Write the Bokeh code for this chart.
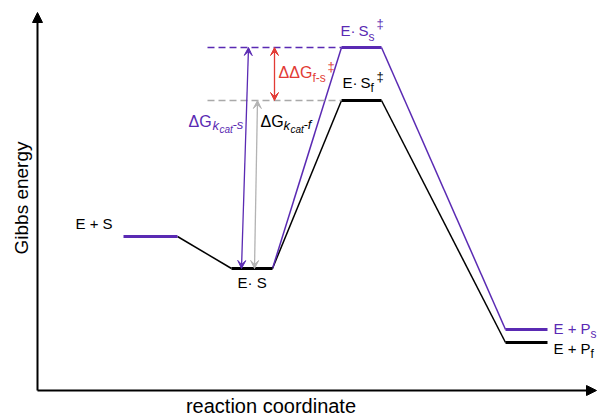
import math
from bokeh.plotting import figure
from bokeh.models import Range1d, Label, Arrow, VeeHead, NormalHead
from bokeh.embed import file_html
from bokeh.resources import INLINE

# ---- data: states along the reaction coordinate (arbitrary units) ----
states = ["E + S", "E· S", "E· S‡", "E + P"]
rc_start = [86, 194, 304, 468]
rc_end = [140, 235, 344, 510]
# Gibbs energies (arbitrary units, E + S = 0)
G_f = [0, -16, 68, -53]        # fast substrate f (black)
G_s = [0, -16, 94.5, -46.5]    # slow substrate s (purple)
axis_G = [-77, 112]            # extent of energy axis
axis_rc = [0, 559]             # extent of reaction-coordinate axis

PURPLE = "#5a2ab3"
BLACK = "#000000"
RED = "#e23b35"
GRAY = "#a9a9a9"
GRAY_ARROW = "#b3b3b3"
FONT = "Liberation Sans"

XPX, YPX = 1.0, 2.0   # pixels per data unit
BASE_SHIFT = 5        # pixels: raise labels to compensate baseline placement

p = figure(width=597, height=416, x_range=Range1d(-37, 560), y_range=Range1d(-90, 118),
           x_axis_type=None, y_axis_type=None, toolbar_location=None,
           output_backend="svg", min_border=0)
p.outline_line_color = None

# ---- axes as arrows ----
p.add_layout(Arrow(x_start=axis_rc[0], y_start=axis_G[0], x_end=axis_rc[0], y_end=axis_G[1],
                   line_width=2, line_color=BLACK,
                   end=NormalHead(size=10, fill_color=BLACK, line_color=BLACK, line_width=1)))
p.add_layout(Arrow(x_start=axis_rc[0], y_start=axis_G[0], x_end=axis_rc[1], y_end=axis_G[0],
                   line_width=2, line_color=BLACK,
                   end=NormalHead(size=10, fill_color=BLACK, line_color=BLACK, line_width=1)))

# ---- thin connectors ----
conn_x = [[rc_end[0], rc_start[1]], [rc_end[1], rc_start[2]], [rc_end[2], rc_start[3]],
          [rc_end[1], rc_start[2]], [rc_end[2], rc_start[3]]]
conn_y = [[G_f[0], G_f[1]], [G_f[1], G_f[2]], [G_f[2], G_f[3]],
          [G_s[1], G_s[2]], [G_s[2], G_s[3]]]
p.multi_line(xs=conn_x, ys=conn_y, line_color=[BLACK, BLACK, BLACK, PURPLE, PURPLE], line_width=1.5)

# ---- thick levels ----
lev_x0 = [rc_start[0], rc_start[1], rc_start[2], rc_start[2], rc_start[3], rc_start[3]]
lev_x1 = [rc_end[0], rc_end[1], rc_end[2], rc_end[2], rc_end[3], rc_end[3]]
lev_y = [G_s[0], G_f[1], G_f[2], G_s[2], G_f[3], G_s[3]]
lev_c = [PURPLE, BLACK, BLACK, PURPLE, BLACK, PURPLE]
p.segment(x0=lev_x0, y0=lev_y, x1=lev_x1, y1=lev_y, line_color=lev_c, line_width=3)

# ---- dashed reference lines at transition-state levels ----
DASH_FROM = 170
p.segment(x0=[DASH_FROM, DASH_FROM], y0=[G_s[2], G_f[2]], x1=[rc_start[2]] * 2, y1=[G_s[2], G_f[2]],
          line_color=[PURPLE, GRAY], line_width=1.3, line_dash="7 4")

# ---- double-headed energy arrows ----
def darrow(x0, y0, x1, y1, color):
    p.add_layout(Arrow(x_start=x0, y_start=y0, x_end=x1, y_end=y1, line_color=color, line_width=1.3,
                       start=VeeHead(size=8, fill_color=color, line_color=color, line_width=1),
                       end=VeeHead(size=8, fill_color=color, line_color=color, line_width=1)))

AX_S = (211, 204)
AX_F = (220, 217)
AX_R = 237
darrow(AX_S[0], G_s[2], AX_S[1], G_s[1], PURPLE)
darrow(AX_F[0], G_f[2], AX_F[1], G_f[1], GRAY_ARROW)
darrow(AX_R, G_s[2], AX_R, G_f[2], RED)

# ---- labels ----
def put(x, y, text, color=BLACK, size=15, dx=0, dy=0, style="normal",
        align="left", angle=0):
    if angle == 0:
        dy = dy - BASE_SHIFT
    p.add_layout(Label(x=x + dx / XPX, y=y - dy / YPX, text=text, text_color=color,
                       text_font=FONT, text_font_size=f"{size}px", text_font_style=style,
                       text_align=align, text_baseline="alphabetic", angle=angle))

# states
put(rc_start[0], G_s[0], states[0], dx=-48, dy=-8)
put(rc_start[1], G_f[1], states[1], dx=6, dy=19)
put(rc_start[2], G_f[2], "E\u00b7\u2009S", dx=1, dy=-13)
put(rc_start[2], G_f[2], "f", size=12, dx=29, dy=-8)
put(rc_start[2], G_f[2], "\u2021", size=13, dx=35, dy=-19)
put(rc_start[2], G_s[2], "E\u00b7\u2009S", color=PURPLE, dx=-1, dy=-12)
put(rc_start[2], G_s[2], "s", color=PURPLE, size=12, dx=27, dy=-6)
put(rc_start[2], G_s[2], "\u2021", color=PURPLE, size=13, dx=35, dy=-19)
put(rc_end[3], G_s[3], "E + P", color=PURPLE, dx=6, dy=4)
put(rc_end[3], G_s[3], "s", color=PURPLE, size=12, dx=43, dy=9)
put(rc_end[3], G_f[3], "E + P", dx=6, dy=11)
put(rc_end[3], G_f[3], "f", size=12, dx=43, dy=16)

# ΔG kcat-s (purple)
put(AX_S[0], G_s[2], "\u0394G", color=PURPLE, size=16, dx=-60, dy=79)
put(AX_S[0], G_s[2], "k", color=PURPLE, size=13, dx=-36, dy=83, style="italic")
put(AX_S[0], G_s[2], "cat", color=PURPLE, size=10, dx=-29, dy=87, style="italic")
put(AX_S[0], G_s[2], "-s", color=PURPLE, size=13, dx=-16, dy=82, style="italic")
# ΔG kcat-f (black)
put(AX_F[0], G_f[2], "\u0394G", size=16, dx=3, dy=26)
put(AX_F[0], G_f[2], "k", size=13, dx=26, dy=30, style="italic")
put(AX_F[0], G_f[2], "cat", size=10, dx=33, dy=34, style="italic")
put(AX_F[0], G_f[2], "-f", size=13, dx=46, dy=29, style="italic")
# ΔΔG f-s (red)
put(AX_R, G_s[2], "\u0394\u0394G", color=RED, size=16, dx=4, dy=30)
put(AX_R, G_s[2], "f-s", color=RED, size=12, dx=38, dy=35)
put(AX_R, G_s[2], "\u2021", color=RED, size=13, dx=53, dy=24)

# axis titles
put(axis_rc[0], (axis_G[0] + axis_G[1]) / 2, "Gibbs energy", size=19, dx=-16, dy=-3.5,
    align="center", angle=math.pi / 2)
put(axis_rc[0], axis_G[0], "reaction coordinate", size=20, dx=233.5, dy=20, align="center")

open("out.html", "w").write(file_html(p, INLINE))
